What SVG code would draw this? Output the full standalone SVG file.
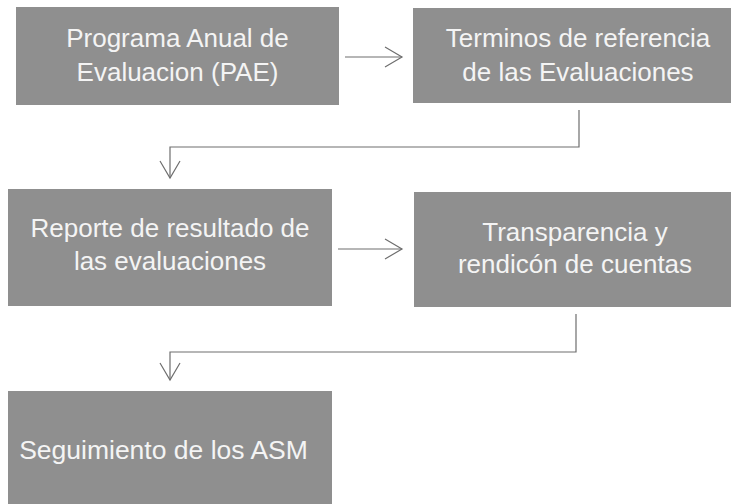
<svg xmlns="http://www.w3.org/2000/svg" width="731" height="504" viewBox="0 0 731 504">
<style>
.box{fill:#8f8f8f;}
.lbl{font-family:"Liberation Sans",Arial,sans-serif;font-size:26px;fill:#f4f4f4;text-anchor:middle;}
.con{fill:none;stroke:#6e6e6e;stroke-width:1.2;}
</style>
<defs>
<marker id="arr" markerUnits="userSpaceOnUse" markerWidth="24" markerHeight="24" viewBox="-20 -12 24 24" refX="0" refY="0" orient="auto">
<path d="M-17,-10 L0,0 L-17,10" fill="none" stroke="#6e6e6e" stroke-width="1.2"/>
</marker>
</defs>
<rect width="731" height="504" fill="#ffffff"/>
<g id="n1">
<rect class="box" x="16" y="7" width="323" height="98"/>
<text class="lbl" x="177.5" y="47">Programa Anual de</text>
<text class="lbl" x="177.5" y="81">Evaluacion (PAE)</text>
</g>
<g id="n2">
<rect class="box" x="413" y="8" width="330" height="95"/>
<text class="lbl" x="578" y="47">Terminos de referencia</text>
<text class="lbl" x="578" y="81">de las Evaluaciones</text>
</g>
<g id="n3">
<rect class="box" x="8" y="189" width="324" height="117"/>
<text class="lbl" x="170" y="237">Reporte de resultado de</text>
<text class="lbl" x="170" y="270">las evaluaciones</text>
</g>
<g id="n4">
<rect class="box" x="414" y="192" width="330" height="115"/>
<text class="lbl" x="575" y="241">Transparencia y</text>
<text class="lbl" x="575" y="273">rendicón de cuentas</text>
</g>
<g id="n5">
<rect class="box" x="8" y="391" width="324" height="120"/>
<text class="lbl" x="163.5" y="459" style="font-size:26.5px">Seguimiento de los ASM</text>
</g>
<g id="connectors">
<path class="con" d="M345,57 L402,57" marker-end="url(#arr)"/>
<path class="con" d="M579,110 L579,147 L170,147 L170,178" marker-end="url(#arr)"/>
<path class="con" d="M338,249 L402,249" marker-end="url(#arr)"/>
<path class="con" d="M576,314 L576,352 L170,352 L170,380" marker-end="url(#arr)"/>
</g>
</svg>
